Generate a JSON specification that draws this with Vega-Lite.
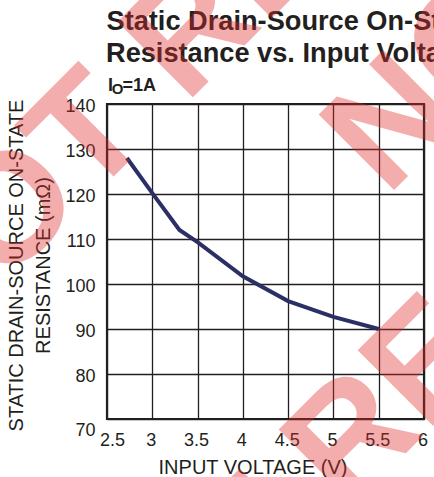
{
  "$schema": "https://vega.github.io/schema/vega-lite/v6.json",
  "width": 317,
  "height": 315,
  "autosize": {"type": "none"},
  "padding": {"left": 107, "top": 104, "right": 10, "bottom": 58},
  "background": "white",
  "config": {
    "font": "Liberation Sans",
    "view": {"stroke": "#231f20", "strokeWidth": 2.2}
  },
  "layer": [
    {
      "data": {
        "values": [
          {"voltage": 2.72, "resistance": 128.0},
          {"voltage": 3.0, "resistance": 120.2},
          {"voltage": 3.3, "resistance": 112.0},
          {"voltage": 3.5, "resistance": 109.3},
          {"voltage": 4.0, "resistance": 101.7},
          {"voltage": 4.5, "resistance": 96.2},
          {"voltage": 5.0, "resistance": 92.7},
          {"voltage": 5.5, "resistance": 90.0}
        ]
      },
      "mark": {"type": "line", "color": "#2c2f66", "strokeWidth": 4},
      "encoding": {
        "x": {
          "field": "voltage",
          "type": "quantitative",
          "scale": {"domain": [2.5, 6], "nice": false, "zero": false},
          "axis": {
            "values": [2.5, 3, 3.5, 4, 4.5, 5, 5.5, 6],
            "format": "~g",
            "grid": true,
            "gridColor": "#231f20",
            "gridWidth": 1.3,
            "gridOpacity": 1,
            "ticks": false,
            "domain": false,
            "labelFlush": false,
            "labelFont": "Liberation Sans",
            "labelFontSize": 18,
            "labelColor": "#231f20",
            "labelPadding": 12,
            "labelOffset": {"condition": {"test": "datum.value === 2.5", "value": 5}, "value": -1.5},
            "title": "INPUT VOLTAGE (V)",
            "titleFont": "Liberation Sans",
            "titleFontSize": 20,
            "titleFontWeight": "normal",
            "titleColor": "#231f20",
            "titleX": 145.5,
            "titleY": 54,
            "titleAlign": "center",
            "titleBaseline": "alphabetic"
          }
        },
        "y": {
          "field": "resistance",
          "type": "quantitative",
          "scale": {"domain": [70, 140], "nice": false, "zero": false},
          "axis": {
            "values": [70, 80, 90, 100, 110, 120, 130, 140],
            "grid": true,
            "gridColor": "#231f20",
            "gridWidth": 1.3,
            "gridOpacity": 1,
            "ticks": false,
            "domain": false,
            "labelFlush": false,
            "labelFont": "Liberation Sans",
            "labelFontSize": 18,
            "labelColor": "#231f20",
            "labelPadding": 12,
            "labelOffset": {"condition": {"test": "datum.value === 70", "value": 11}, "value": 2.7},
            "title": ["STATIC DRAIN-SOURCE ON-STATE", "          RESISTANCE (mΩ)"],
            "titleFont": "Liberation Sans",
            "titleFontSize": 20,
            "titleFontWeight": "normal",
            "titleColor": "#231f20",
            "titleAngle": -90,
            "titleX": -84.3,
            "titleY": 161,
            "titleAlign": "center",
            "titleBaseline": "alphabetic",
            "titleLineHeight": 27.3
          }
        }
      }
    },
    {
      "data": {"values": [{}]},
      "mark": {"type": "text", "text": "Static Drain-Source On-State", "font": "Liberation Sans", "fontSize": 27.2, "fontWeight": "bold", "color": "#231f20", "align": "left", "baseline": "alphabetic", "dx": -0.5, "dy": -74},
      "encoding": {"x": {"datum": 2.5, "type": "quantitative"}, "y": {"datum": 140, "type": "quantitative"}}
    },
    {
      "data": {"values": [{}]},
      "mark": {"type": "text", "text": "Resistance vs. Input Voltage", "font": "Liberation Sans", "fontSize": 27.2, "fontWeight": "bold", "color": "#231f20", "align": "left", "baseline": "alphabetic", "dx": -1, "dy": -42.3},
      "encoding": {"x": {"datum": 2.5, "type": "quantitative"}, "y": {"datum": 140, "type": "quantitative"}}
    },
    {
      "data": {"values": [{}]},
      "mark": {"type": "text", "text": "I", "font": "Liberation Sans", "fontSize": 18, "fontWeight": "bold", "color": "#231f20", "align": "left", "baseline": "alphabetic", "dx": 1, "dy": -13.3},
      "encoding": {"x": {"datum": 2.5, "type": "quantitative"}, "y": {"datum": 140, "type": "quantitative"}}
    },
    {
      "data": {"values": [{}]},
      "mark": {"type": "text", "text": "O", "font": "Liberation Sans", "fontSize": 15, "fontWeight": "bold", "color": "#231f20", "align": "left", "baseline": "alphabetic", "dx": 4.7, "dy": -10.5},
      "encoding": {"x": {"datum": 2.5, "type": "quantitative"}, "y": {"datum": 140, "type": "quantitative"}}
    },
    {
      "data": {"values": [{}]},
      "mark": {"type": "text", "text": "=1A", "font": "Liberation Sans", "fontSize": 18, "fontWeight": "bold", "color": "#231f20", "align": "left", "baseline": "alphabetic", "dx": 15.4, "dy": -13.3},
      "encoding": {"x": {"datum": 2.5, "type": "quantitative"}, "y": {"datum": 140, "type": "quantitative"}}
    },
    {
      "data": {"values": [{}]},
      "mark": {"type": "text", "text": "NOT RECOMMENDED", "font": "Liberation Sans", "fontSize": 155, "fontWeight": "bold", "color": "#e02a2a", "opacity": 0.38, "angle": -45, "align": "left", "baseline": "alphabetic"},
      "encoding": {"x": {"datum": 0.475, "type": "quantitative"}, "y": {"datum": 81.7, "type": "quantitative"}}
    },
    {
      "data": {"values": [{}]},
      "mark": {"type": "text", "text": "NOT RECOMMENDED", "font": "Liberation Sans", "fontSize": 155, "fontWeight": "bold", "color": "#e02a2a", "opacity": 0.38, "angle": -45, "align": "left", "baseline": "alphabetic"},
      "encoding": {"x": {"datum": 5.59, "type": "quantitative"}, "y": {"datum": 119.3, "type": "quantitative"}}
    },
    {
      "data": {"values": [{}]},
      "mark": {"type": "text", "text": "NOT RECOMMENDED", "font": "Liberation Sans", "fontSize": 155, "fontWeight": "bold", "color": "#e02a2a", "opacity": 0.38, "angle": -45, "align": "left", "baseline": "alphabetic"},
      "encoding": {"x": {"datum": 2.256, "type": "quantitative"}, "y": {"datum": -8.9, "type": "quantitative"}}
    }
  ]
}
